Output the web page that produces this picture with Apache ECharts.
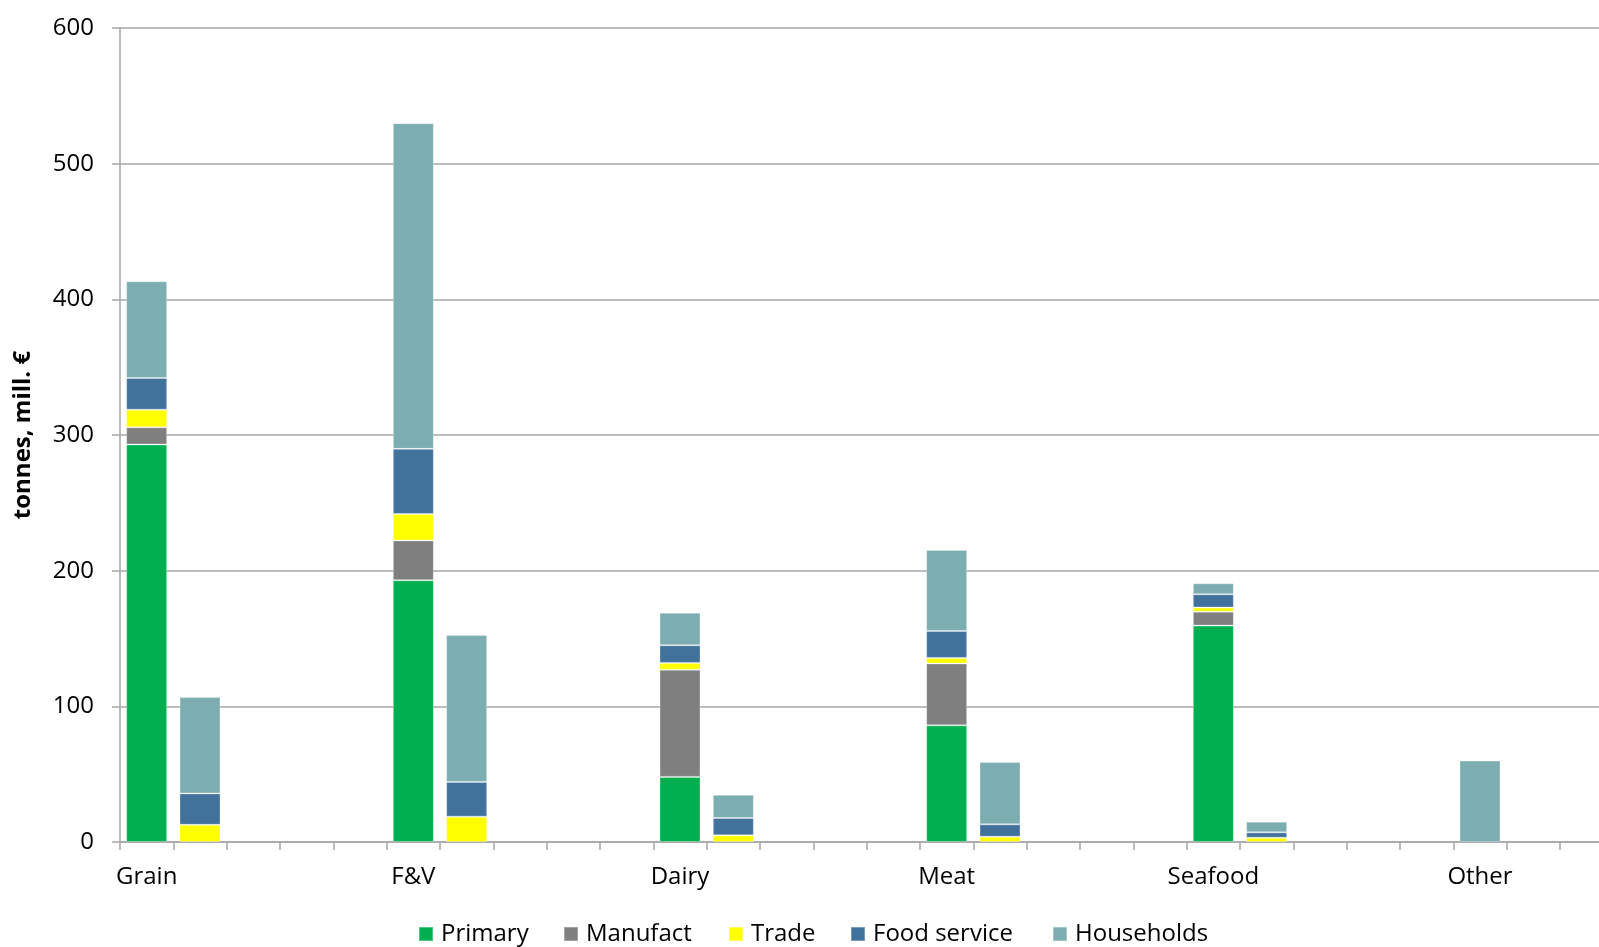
<!DOCTYPE html>
<html>
<head>
<meta charset="utf-8">
<title>Food waste by product group and stage</title>
<script src="https://cdn.jsdelivr.net/npm/echarts@6/dist/echarts.min.js"></script>
<style>
  html, body { margin: 0; padding: 0; background: #fff; overflow: hidden; }
  /* plot area runs past the right edge of the window */
  #chart { width: 1720px; height: 947px; }
</style>
</head>
<body>
<div id="chart"></div>
<script>
// Product groups along the x axis
const groups = ['Grain', 'F&V', 'Dairy', 'Meat', 'Seafood', 'Other'];
// Each group has five slots: first bar (tonnes), second bar (mill. €), then three empty slots
const SLOTS_PER_GROUP = 5;

// Stages of the chain, bottom to top in each stack
const stages = ['Primary', 'Manufact', 'Trade', 'Food service', 'Households'];
const stageColors = ['#00B050', '#7F7F7F', '#FFFF00', '#41729C', '#7BADB1'];

// First bar of each group (tonnes)
const primaryTonnes     = [293,   193,   48,   86,   159.5, 0];
const manufactTonnes    = [12.7,  29.3,  79,   45.6, 10.3,  0];
const tradeTonnes       = [13,    19.5,  5,    4.1,  3,     0];
const foodServiceTonnes = [23.3,  48,    13,   19.9, 9.8,   0];
const householdsTonnes  = [71.3,  240,   24,   59.7, 8.1,   60];

// Second bar of each group (mill. €)
const primaryValue     = [0,    0,     0,    0,    0,   0];
const manufactValue    = [0,    0,     0,    0,    0,   0];
const tradeValue       = [12.7, 18.7,  4.9,  3.9,  3.2, 0];
const foodServiceValue = [23.1, 25.6,  12.8, 9.1,  3.9, 0];
const householdsValue  = [71,   108.2, 17.1, 45.9, 7.9, 0];

// Y axis ticks
const yMin = 0, yMax = 600, yStep = 100;

const tonnesByStage = [primaryTonnes, manufactTonnes, tradeTonnes, foodServiceTonnes, householdsTonnes];
const valueByStage  = [primaryValue, manufactValue, tradeValue, foodServiceValue, householdsValue];

// Slot keys for the category axis; only the first slot of a group shows its name
const slotKeys = [];
groups.forEach((g, gi) => {
  for (let k = 0; k < SLOTS_PER_GROUP; k++) slotKeys.push(gi + '|' + k);
});

function slotData(tonnes, value) {
  const out = new Array(groups.length * SLOTS_PER_GROUP).fill(null);
  groups.forEach((g, gi) => {
    out[gi * SLOTS_PER_GROUP]     = tonnes[gi] ? tonnes[gi] : null;
    out[gi * SLOTS_PER_GROUP + 1] = value[gi] ? value[gi] : null;
  });
  return out;
}

const FONT = '"Open Sans", "Noto Sans", sans-serif';
const GRID_GREY = '#A6A6A6';

// Left edge of each legend entry along the bottom row
const legendLefts = [418, 563, 728, 850, 1052];

const series = stages.map((name, i) => ({
  name: name,
  type: 'bar',
  stack: 'total',
  barWidth: 41,
  itemStyle: {
    color: stageColors[i],
    borderColor: 'rgba(255,255,255,0.3)',
    borderWidth: 1
  },
  emphasis: { disabled: true },
  data: slotData(tonnesByStage[i], valueByStage[i])
}));

const legends = stages.map((s, i) => ({
  data: [s],
  left: legendLefts[i],
  top: 922,
  padding: 0,
  itemWidth: 14,
  itemHeight: 14,
  icon: 'rect',
  textStyle: { fontFamily: FONT, fontSize: 24, color: '#000', padding: [0, 0, 0, 3] }
}));

const chart = echarts.init(document.getElementById('chart'), null, { renderer: 'canvas' });
chart.setOption({
  animation: false,
  backgroundColor: '#ffffff',
  textStyle: { fontFamily: FONT, color: '#000' },
  grid: { left: 120, right: 0, top: 28, bottom: 105, containLabel: false },
  legend: legends,
  xAxis: {
    type: 'category',
    data: slotKeys,
    boundaryGap: true,
    axisLine: { show: true, lineStyle: { color: GRID_GREY, width: 1.5 } },
    axisTick: { show: true, interval: 0, length: 8, lineStyle: { color: GRID_GREY, width: 1.5 } },
    axisLabel: {
      interval: 0,
      margin: 23,
      fontFamily: FONT,
      fontSize: 24,
      color: '#000',
      formatter: (v) => {
        const parts = v.split('|');
        return parts[1] === '0' ? groups[+parts[0]] : '';
      }
    },
    splitLine: { show: false }
  },
  yAxis: {
    type: 'value',
    min: yMin,
    max: yMax,
    interval: yStep,
    name: 'tonnes, mill. €',
    nameLocation: 'middle',
    nameRotate: 90,
    nameGap: 85,
    nameTextStyle: { fontFamily: FONT, fontSize: 24, fontWeight: 'bold', color: '#000' },
    axisLine: { show: true, lineStyle: { color: GRID_GREY, width: 1.5 } },
    axisTick: { show: true, length: 8, lineStyle: { color: GRID_GREY, width: 1.5 } },
    axisLabel: { margin: 26, fontFamily: FONT, fontSize: 24, color: '#000' },
    splitLine: { show: true, lineStyle: { color: GRID_GREY, width: 1.5 } }
  },
  series: series
});
</script>
</body>
</html>
